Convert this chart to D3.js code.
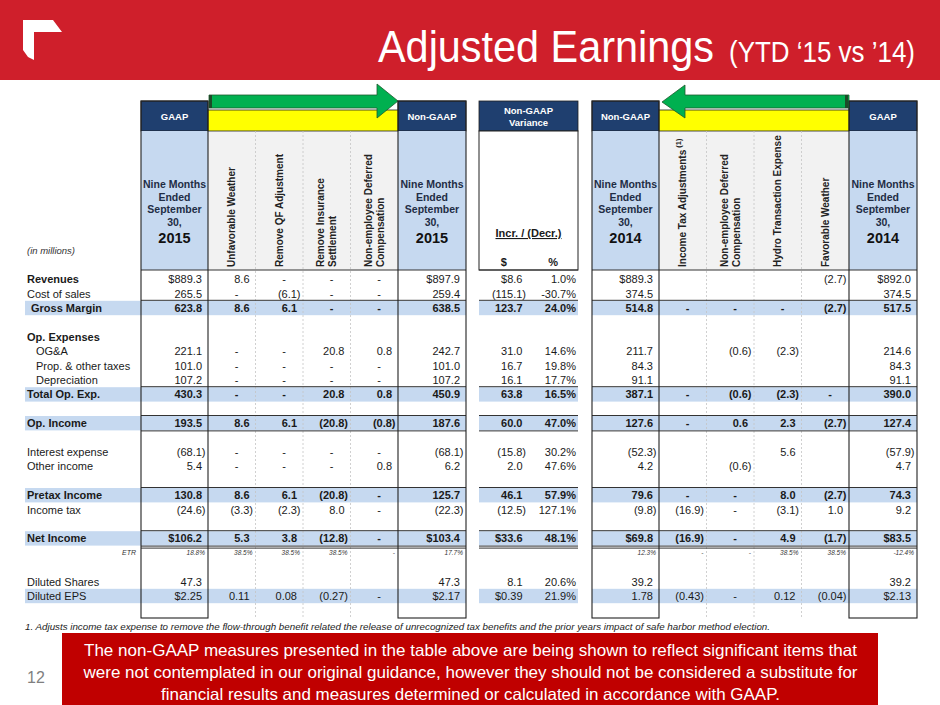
<!DOCTYPE html>
<html>
<head>
<meta charset="utf-8">
<script src="https://cdn.jsdelivr.net/npm/d3@7"></script>
<style>
  body { margin: 0; background: #fff; }
  svg { display: block; font-family: "Liberation Sans", Arial, sans-serif; }
</style>
</head>
<body>
<script>
// righe del conto economico (ultima riga vuota serve solo come spazio)
var rowLabels = ["Revenues", "Cost of sales", "Gross Margin", "", "Op. Expenses", "OG&A",
    "Prop. & other taxes", "Depreciation", "Total Op. Exp.", "", "Op. Income", "",
    "Interest expense", "Other income", "", "Pretax Income", "Income tax", "", "Net Income",
    "ETR", "", "Diluted Shares", "Diluted EPS"];

// valori per colonna, stessa lunghezza di rowLabels
var gaap2015 = ["$889.3", "265.5", "623.8", "", "", "221.1", "101.0", "107.2", "430.3", "", "193.5", "",
    "(68.1)", "5.4", "", "130.8", "(24.6)", "", "$106.2", "18.8%", "", "47.3", "$2.25"];
var unfavWeather = ["8.6", "-", "8.6", "", "", "-", "-", "-", "-", "", "8.6", "",
    "-", "-", "", "8.6", "(3.3)", "", "5.3", "38.5%", "", "", "0.11"];
var removeQF = ["-", "(6.1)", "6.1", "", "", "-", "-", "-", "-", "", "6.1", "",
    "-", "-", "", "6.1", "(2.3)", "", "3.8", "38.5%", "", "", "0.08"];
var insuranceSettl = ["-", "-", "-", "", "", "20.8", "-", "-", "20.8", "", "(20.8)", "",
    "-", "-", "", "(20.8)", "8.0", "", "(12.8)", "38.5%", "", "", "(0.27)"];
var nonEmpComp2015 = ["-", "-", "-", "", "", "0.8", "-", "-", "0.8", "", "(0.8)", "",
    "-", "0.8", "", "-", "-", "", "-", "-", "", "", "-"];
var nonGaap2015 = ["$897.9", "259.4", "638.5", "", "", "242.7", "101.0", "107.2", "450.9", "", "187.6", "",
    "(68.1)", "6.2", "", "125.7", "(22.3)", "", "$103.4", "17.7%", "", "47.3", "$2.17"];
var varDollar = ["$8.6", "(115.1)", "123.7", "", "", "31.0", "16.7", "16.1", "63.8", "", "60.0", "",
    "(15.8)", "2.0", "", "46.1", "(12.5)", "", "$33.6", "", "", "8.1", "$0.39"];
var varPct = ["1.0%", "-30.7%", "24.0%", "", "", "14.6%", "19.8%", "17.7%", "16.5%", "", "47.0%", "",
    "30.2%", "47.6%", "", "57.9%", "127.1%", "", "48.1%", "", "", "20.6%", "21.9%"];
var nonGaap2014 = ["$889.3", "374.5", "514.8", "", "", "211.7", "84.3", "91.1", "387.1", "", "127.6", "",
    "(52.3)", "4.2", "", "79.6", "(9.8)", "", "$69.8", "12.3%", "", "39.2", "1.78"];
var incomeTaxAdj = ["", "", "-", "", "", "", "", "", "-", "", "-", "",
    "", "", "", "-", "(16.9)", "", "(16.9)", "-", "", "", "(0.43)"];
var nonEmpComp2014 = ["", "", "-", "", "", "(0.6)", "", "", "(0.6)", "", "0.6", "",
    "", "(0.6)", "", "-", "-", "", "-", "-", "", "", "-"];
var hydroExpense = ["", "", "-", "", "", "(2.3)", "", "", "(2.3)", "", "2.3", "",
    "5.6", "", "", "8.0", "(3.1)", "", "4.9", "38.5%", "", "", "0.12"];
var favWeather = ["(2.7)", "", "(2.7)", "", "", "", "", "", "-", "", "(2.7)", "",
    "", "", "", "(2.7)", "1.0", "", "(1.7)", "38.5%", "", "", "(0.04)"];
var gaap2014 = ["$892.0", "374.5", "517.5", "", "", "214.6", "84.3", "91.1", "390.0", "", "127.4", "",
    "(57.9)", "4.7", "", "74.3", "9.2", "", "$83.5", "-12.4%", "", "39.2", "$2.13"];

var adjHeads2015 = [["Unfavorable Weather"], ["Remove QF Adjustment"], ["Remove Insurance", "Settlement"],
    ["Non-employee Deferred", "Compensation"]];
var adjHeads2014 = [["Income Tax Adjustments"], ["Non-employee Deferred", "Compensation"],
    ["Hydro Transaction Expense"], ["Favorable Weather"]];

var highlightRows = [2, 8, 10, 15, 18, 22];
var boldValueRows = [2, 8, 10, 15, 18];
var boldLabelRows = [0, 2, 4, 8, 10, 15, 18];
var etrRow = 19;

var footText = "1. Adjusts income tax expense to remove the flow-through benefit related the release of unrecognized tax benefits and the prior years impact of safe harbor method election.";
var boxLines = ["The non-GAAP measures presented in the table above are being shown to reflect significant items that",
    "were not contemplated in our original guidance, however they should not be considered a substitute for",
    "financial results and measures determined or calculated in accordance with GAAP."];

// colori
var red = "#CF1F2B", navy = "#1F3F6F", lightBlue = "#C6D9F0", ink = "#1a1a1a";

var svg = d3.select("body").append("svg")
    .attr("width", 940)
    .attr("height", 705);

// ---- testata rossa ----
svg.append("rect").attr("x", 0).attr("y", 0).attr("width", 940).attr("height", 80).attr("fill", red);
svg.append("polygon")
    .attr("points", "23,20 53,20 62,32 34,32 34,60 28,57 23,50")
    .attr("fill", "#fff");
svg.append("text").attr("x", 378).attr("y", 62)
    .attr("font-family", "'Liberation Sans Narrow', 'Liberation Sans', Arial, sans-serif")
    .attr("font-size", 45).attr("fill", "#fff")
    .attr("textLength", 336).attr("lengthAdjust", "spacingAndGlyphs")
    .text("Adjusted Earnings");
svg.append("text").attr("x", 729).attr("y", 62)
    .attr("font-family", "'Liberation Sans Narrow', 'Liberation Sans', Arial, sans-serif")
    .attr("font-size", 29).attr("fill", "#fff")
    .attr("textLength", 186).attr("lengthAdjust", "spacingAndGlyphs")
    .text("(YTD \u201815 vs \u201914)");

// ---- geometria della tabella ----
var y = d3.scaleBand().domain(d3.range(rowLabels.length + 1)).range([272, 617.6]);
var adjX15 = d3.scaleBand().domain(d3.range(4)).range([208, 398]);
var adjX14 = d3.scaleBand().domain(d3.range(4)).range([659, 849]);
var varX = d3.scaleBand().domain(["$", "%"]).range([479, 578]);
var yHead = 101, yYellow = 110, yHead2 = 131, yBody = 270, yEnd = 618;

var adjVals15 = [unfavWeather, removeQF, insuranceSettl, nonEmpComp2015];
var adjVals14 = [incomeTaxAdj, nonEmpComp2014, hydroExpense, favWeather];

var columns = [{x0: 141, x1: 208, vals: gaap2015, kind: "acct"}];
adjVals15.forEach(function (v, i) {
    columns.push({x0: adjX15(i), x1: adjX15(i) + adjX15.bandwidth(), vals: v, kind: "adj"});
});
columns.push({x0: 398, x1: 466, vals: nonGaap2015, kind: "acct"});
columns.push({x0: varX("$"), x1: varX("$") + varX.bandwidth(), vals: varDollar, kind: "acct"});
columns.push({x0: varX("%"), x1: varX("%") + varX.bandwidth(), vals: varPct, kind: "pct"});
columns.push({x0: 592, x1: 659, vals: nonGaap2014, kind: "acct"});
adjVals14.forEach(function (v, i) {
    columns.push({x0: adjX14(i), x1: adjX14(i) + adjX14.bandwidth(), vals: v, kind: "adj"});
});
columns.push({x0: 849, x1: 917, vals: gaap2014, kind: "acct"});

var spans = [[141, 466], [479, 578], [592, 917]];
var bandSpans = [[25, 466], [479, 578], [592, 917]];

// ---- intestazioni ----
function darkHead(x0, x1, lines) {
    svg.append("rect").attr("x", x0).attr("y", yHead).attr("width", x1 - x0).attr("height", yHead2 - yHead)
        .attr("fill", navy).attr("stroke", "#222").attr("stroke-width", 0.8);
    lines.forEach(function (t, i) {
        svg.append("text").attr("x", (x0 + x1) / 2)
            .attr("y", (yHead + yHead2) / 2 + 3.5 + (i - (lines.length - 1) / 2) * 12)
            .attr("text-anchor", "middle").attr("font-size", 9.5).attr("font-weight", "bold")
            .attr("fill", "#fff").text(t);
    });
}
function periodHead(x0, x1, year) {
    svg.append("rect").attr("x", x0).attr("y", yHead2).attr("width", x1 - x0).attr("height", yBody - yHead2)
        .attr("fill", lightBlue);
    ["Nine Months", "Ended", "September", "30,"].forEach(function (t, i) {
        svg.append("text").attr("x", (x0 + x1) / 2).attr("y", 188 + i * 12.6)
            .attr("text-anchor", "middle").attr("font-size", 10.5).attr("font-weight", "bold")
            .attr("fill", "#1f2d45").text(t);
    });
    svg.append("text").attr("x", (x0 + x1) / 2).attr("y", 243)
        .attr("text-anchor", "middle").attr("font-size", 14.5).attr("font-weight", "bold")
        .attr("fill", "#111").text(year);
}
function adjHead(scale, heads, sup) {
    var r = scale.range();
    svg.append("rect").attr("x", r[0]).attr("y", yHead2).attr("width", r[1] - r[0]).attr("height", yBody - yHead2)
        .attr("fill", "#F2F2F2");
    svg.append("rect").attr("x", r[0]).attr("y", yYellow).attr("width", r[1] - r[0]).attr("height", yHead2 - yYellow)
        .attr("fill", "#FFFF00").attr("stroke", "#222").attr("stroke-width", 0.8);
    heads.forEach(function (lines, i) {
        var cx = scale(i) + scale.bandwidth() / 2;
        var g = svg.append("g").attr("transform", "translate(" + cx + "," + (yBody - 3) + ") rotate(-90)");
        lines.forEach(function (t, j) {
            var txt = g.append("text").attr("x", 0)
                .attr("y", 3.7 + (j - (lines.length - 1) / 2) * 12)
                .attr("font-size", 10).attr("font-weight", "bold").attr("fill", "#222").text(t);
            if (sup && i === 0 && j === 0) {
                txt.append("tspan").attr("dy", -5).attr("font-size", 7.5).text(" (1)");
            }
        });
    });
}

darkHead(141, 208, ["GAAP"]);
darkHead(398, 466, ["Non-GAAP"]);
darkHead(479, 578, ["Non-GAAP", "Variance"]);
darkHead(592, 659, ["Non-GAAP"]);
darkHead(849, 917, ["GAAP"]);
periodHead(141, 208, "2015");
periodHead(398, 466, "2015");
periodHead(592, 659, "2014");
periodHead(849, 917, "2014");
adjHead(adjX15, adjHeads2015, false);
adjHead(adjX14, adjHeads2014, true);

// riquadro della varianza
svg.append("rect").attr("x", 479).attr("y", yHead2).attr("width", 99).attr("height", yBody - yHead2)
    .attr("fill", "#fff").attr("stroke", "#222").attr("stroke-width", 1);
svg.append("text").attr("x", 528.5).attr("y", 237).attr("text-anchor", "middle")
    .attr("font-size", 11).attr("font-weight", "bold").attr("text-decoration", "underline")
    .attr("fill", ink).text("Incr. / (Decr.)");
["$", "%"].forEach(function (k) {
    svg.append("text").attr("x", varX(k) + varX.bandwidth() / 2).attr("y", 266).attr("text-anchor", "middle")
        .attr("font-size", 11).attr("font-weight", "bold").attr("fill", ink).text(k);
});

svg.append("text").attr("x", 27).attr("y", 254).attr("font-size", 9.5).attr("font-style", "italic")
    .attr("fill", "#333").text("(in millions)");

// frecce
function arrow(pts, stripe) {
    svg.append("polygon").attr("points", pts.map(function (p) { return p.join(","); }).join(" "))
        .attr("fill", "#00B050").attr("stroke", "#1d5a2d").attr("stroke-width", 0.8);
    svg.append("rect").attr("x", stripe).attr("y", 95).attr("width", 3).attr("height", 13)
        .attr("fill", "#1d4a28");
}
arrow([[209, 95], [377, 95], [377, 84], [398, 101], [377, 118], [377, 108], [209, 108]], 209);
arrow([[849, 95], [685, 95], [685, 85], [662, 102], [685, 118], [685, 108], [849, 108]], 845);

// ---- righe evidenziate ----
highlightRows.forEach(function (r) {
    bandSpans.forEach(function (s) {
        svg.append("rect").attr("x", s[0]).attr("y", y(r)).attr("width", s[1] - s[0])
            .attr("height", y.bandwidth()).attr("fill", lightBlue);
    });
});

// separatori tratteggiati delle colonne di rettifica
[adjX15, adjX14].forEach(function (sc) {
    d3.range(1, 4).forEach(function (i) {
        svg.append("line").attr("x1", sc(i)).attr("x2", sc(i)).attr("y1", yHead2).attr("y2", yEnd)
            .attr("stroke", "#c4c4c4").attr("stroke-width", 0.8).attr("stroke-dasharray", "2,2");
    });
});

// linee orizzontali dei totali
function hline(yy, w) {
    spans.forEach(function (s) {
        svg.append("line").attr("x1", s[0]).attr("x2", s[1]).attr("y1", yy).attr("y2", yy)
            .attr("stroke", "#333").attr("stroke-width", w || 1);
    });
}
hline(yBody, 1.2);
[2, 8, 10, 15, 18].forEach(function (r) { hline(y(r) - 0.5); });
hline(y(10) + y.bandwidth() + 0.5);
hline(y(18) + y.bandwidth() + 0.5);
hline(y(18) + y.bandwidth() + 2.5);

// riquadri neri GAAP / Non-GAAP
[[141, 208], [398, 466], [592, 659], [849, 917]].forEach(function (s) {
    svg.append("rect").attr("x", s[0]).attr("y", yHead).attr("width", s[1] - s[0]).attr("height", yEnd - yHead)
        .attr("fill", "none").attr("stroke", "#222").attr("stroke-width", 1.1);
});

// ---- etichette di riga ----
rowLabels.forEach(function (lab, i) {
    if (!lab) return;
    var cy = y(i) + y.bandwidth() / 2;
    if (i === etrRow) {
        svg.append("text").attr("x", 136).attr("y", cy + 2.5).attr("text-anchor", "end")
            .attr("font-size", 7).attr("font-style", "italic").attr("fill", "#333").text(lab);
        return;
    }
    var x = (i >= 5 && i <= 7) ? 36 : (i === 2 ? 31 : 27);
    svg.append("text").attr("x", x).attr("y", cy + 4)
        .attr("font-size", 11).attr("font-weight", boldLabelRows.indexOf(i) >= 0 ? "bold" : "normal")
        .attr("fill", ink).text(lab);
});

// ---- valori ----
columns.forEach(function (c) {
    c.vals.forEach(function (v, i) {
        if (!v) return;
        var cy = y(i) + y.bandwidth() / 2;
        var t = svg.append("text").attr("fill", ink).text(v);
        if (i === etrRow) {
            t.attr("x", c.x1 - 3).attr("y", cy + 2.5).attr("text-anchor", "end")
                .attr("font-size", 6.5).attr("font-style", "italic").attr("fill", "#333");
            return;
        }
        t.attr("font-size", 11).attr("y", cy + 4)
            .attr("font-weight", boldValueRows.indexOf(i) >= 0 ? "bold" : "normal");
        if (v === "-") {
            t.attr("x", c.x1 - 19).attr("text-anchor", "middle");
        } else if (c.kind === "pct") {
            t.attr("x", c.x1 - 2).attr("text-anchor", "end");
        } else if (v.charAt(v.length - 1) === ")") {
            t.attr("x", c.x1 - 2.5).attr("text-anchor", "end");
        } else {
            t.attr("x", c.x1 - 6).attr("text-anchor", "end");
        }
    });
});

// ---- note a piè di pagina ----
svg.append("text").attr("x", 25).attr("y", 629.5).attr("font-size", 8.5).attr("font-style", "italic")
    .attr("fill", "#222").attr("textLength", 745).attr("lengthAdjust", "spacingAndGlyphs").text(footText);

svg.append("rect").attr("x", 62).attr("y", 633).attr("width", 816).attr("height", 72).attr("fill", "#C00000");
var boxWidths = [773, 774, 619];
boxLines.forEach(function (t, i) {
    svg.append("text").attr("x", 470.5).attr("y", 656 + i * 22).attr("text-anchor", "middle")
        .attr("font-size", 16.5).attr("fill", "#fff")
        .attr("textLength", boxWidths[i]).attr("lengthAdjust", "spacingAndGlyphs").text(t);
});
svg.append("text").attr("x", 27).attr("y", 683).attr("font-size", 16).attr("fill", "#7f7f7f").text("12");
</script>
</body>
</html>
